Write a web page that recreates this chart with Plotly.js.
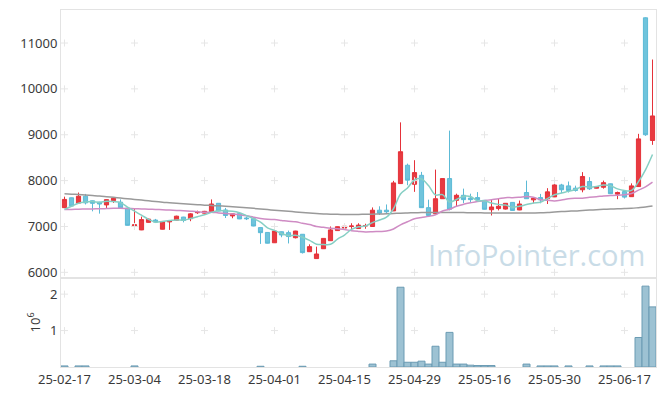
<!DOCTYPE html>
<html>
<head>
<meta charset="utf-8">
<script src="https://cdn.plot.ly/plotly-3.0.1.min.js"></script>
<style>html,body{margin:0;padding:0;background:#fff;}#chart{width:665px;height:396px;}</style>
</head>
<body>
<div id="chart"></div>
<script>
const dates = ["25-02-17","25-02-18","25-02-19","25-02-20","25-02-21","25-02-24","25-02-25","25-02-26","25-02-27","25-02-28",
"25-03-04","25-03-05","25-03-06","25-03-07","25-03-10","25-03-11","25-03-12","25-03-13","25-03-14","25-03-17",
"25-03-18","25-03-19","25-03-20","25-03-21","25-03-24","25-03-25","25-03-26","25-03-27","25-03-28","25-03-31",
"25-04-01","25-04-02","25-04-03","25-04-04","25-04-07","25-04-08","25-04-09","25-04-10","25-04-11","25-04-14",
"25-04-15","25-04-16","25-04-17","25-04-18","25-04-21","25-04-22","25-04-23","25-04-24","25-04-25","25-04-28",
"25-04-29","25-04-30","25-05-02","25-05-07","25-05-08","25-05-09","25-05-12","25-05-13","25-05-14","25-05-15",
"25-05-16","25-05-19","25-05-20","25-05-21","25-05-22","25-05-23","25-05-26","25-05-27","25-05-28","25-05-29",
"25-05-30","25-06-02","25-06-04","25-06-05","25-06-09","25-06-10","25-06-11","25-06-12","25-06-13","25-06-16",
"25-06-17","25-06-18","25-06-19","25-06-20","25-06-23"];

const open = [7410,7625,7510,7660,7560,7530,7470,7565,7530,7400,
7000,6925,7090,7140,6940,7100,7135,7205,7170,7300,
7290,7325,7505,7360,7230,7280,7185,7170,6975,6870,
6645,6885,6865,6755,6830,6450,6300,6515,6690,6910,
6965,7000,6955,7010,7000,7355,7355,7340,7935,8335,
7920,8115,7410,7280,7605,8045,7570,7680,7620,7630,
7570,7365,7390,7380,7525,7360,7740,7580,7630,7605,
7645,7905,7885,7835,7800,7980,7835,7855,7930,7705,
7760,7650,7870,11550,8875];
const high = [7650,7630,7740,7710,7565,7540,7590,7640,7590,7405,
7400,7215,7170,7165,7115,7130,7235,7210,7290,7345,
7340,7590,7510,7405,7280,7285,7215,7175,6980,6875,
6905,6890,6910,6905,6835,6610,6560,6745,7000,7000,
7040,7070,7070,7060,7415,7440,7480,7995,9270,8370,
8445,8190,7585,8240,8045,9090,7715,7825,7715,7750,
7575,7585,7620,7505,7530,7565,8000,7640,7710,7835,
7930,7930,7980,7890,8185,8075,7875,8000,7935,7760,
7795,7940,9020,11560,10640];
const low = [7400,7440,7505,7480,7330,7280,7400,7515,7400,7020,
6930,6920,7085,7075,6935,6925,7130,7090,7115,7275,
7285,7320,7330,7185,7180,7160,7140,7005,6620,6630,
6640,6765,6630,6740,6410,6445,6295,6510,6685,6905,
6940,6940,6950,6950,6990,7250,7270,7335,7930,7900,
7755,7405,7205,7275,7600,7350,7425,7510,7520,7555,
7370,7240,7350,7370,7345,7355,7600,7505,7505,7490,
7640,7725,7740,7760,7745,7795,7830,7825,7710,7595,
7610,7645,7865,8975,8780];
const close = [7590,7445,7660,7515,7505,7490,7585,7615,7405,7025,
7040,7150,7160,7095,7110,7125,7225,7130,7275,7310,
7330,7490,7335,7240,7275,7165,7170,7010,6865,6635,
6900,6815,6780,6900,6430,6560,6400,6740,6925,6995,
7005,7010,7030,7020,7355,7290,7320,7950,8630,8010,
8175,7410,7240,7605,8045,7375,7680,7585,7585,7585,
7375,7425,7440,7505,7350,7490,7605,7615,7580,7755,
7905,7800,7785,7785,8090,7820,7870,7955,7715,7740,
7640,7885,8910,9000,9410];

const ma5 = [7370,7440,7505,7535,7543,7523,7551,7542,7520,7424,
7334,7247,7156,7094,7111,7128,7143,7137,7173,7213,
7254,7307,7348,7341,7334,7301,7237,7172,7097,6969,
6916,6845,6799,6806,6765,6697,6614,6606,6611,6724,
6813,6935,6993,7012,7084,7141,7203,7387,7709,7840,
8017,8035,7893,7688,7695,7535,7589,7658,7654,7562,
7562,7511,7482,7466,7419,7442,7478,7513,7528,7609,
7692,7731,7765,7806,7873,7856,7870,7904,7890,7820,
7784,7787,7978,8235,8569];
const ma20 = [7370,7372,7378,7380,7383,7385,7390,7395,7397,7393,
7388,7383,7378,7372,7365,7358,7350,7342,7333,7323,
7310,7312,7296,7282,7271,7254,7234,7203,7176,7157,
7150,7133,7114,7104,7070,7042,7001,6981,6964,6948,
6932,6908,6893,6882,6886,6892,6899,6946,7035,7103,
7167,7197,7220,7255,7336,7377,7441,7483,7516,7545,
7564,7585,7605,7629,7629,7639,7653,7637,7584,7571,
7558,7577,7605,7614,7616,7638,7648,7666,7673,7681,
7694,7717,7791,7865,7968];
const ma60 = [7715,7705,7695,7685,7675,7665,7650,7635,7620,7605,
7590,7575,7560,7545,7530,7518,7505,7495,7485,7475,
7465,7458,7450,7442,7432,7420,7408,7395,7382,7368,
7355,7343,7330,7318,7305,7293,7282,7274,7268,7264,
7262,7262,7263,7265,7268,7272,7276,7282,7290,7295,
7300,7302,7303,7304,7306,7305,7304,7303,7300,7298,
7296,7295,7295,7295,7294,7294,7295,7296,7298,7305,
7315,7325,7333,7340,7350,7358,7365,7373,7380,7386,
7390,7396,7410,7425,7445];

// volume in millions of shares
const volume = [0.03,0,0.03,0.03,0,0,0,0,0,0,
0.03,0,0,0,0,0,0,0,0,0,
0,0,0,0,0,0,0,0,0.02,0,
0,0,0,0,0.02,0,0,0,0,0,
0,0,0,0,0.08,0,0,0.17,2.19,0.13,
0.13,0.16,0.08,0.57,0.13,0.95,0.08,0.08,0.05,0.04,
0.04,0.04,0,0,0,0,0.08,0,0.03,0.03,
0.03,0,0.03,0,0,0.03,0,0.03,0.03,0.03,
0,0,0.81,2.22,1.65];

const priceTicks = [6000,7000,8000,9000,10000,11000];
const volTicks = [1,2];
const xTickIdx = [0,10,20,30,40,50,60,70,80];
const xTicks = xTickIdx.map(i => dates[i]);

// grid crosses at tick intersections
const gx = [], gy = [], vx = [], vy = [];
xTicks.forEach(d => { priceTicks.forEach(p => { gx.push(d); gy.push(p); }); volTicks.forEach(v => { vx.push(d); vy.push(v); }); });

const font = {family: "Noto Sans, Open Sans, sans-serif", size: 13, color: "#3a3a3a"};
const axLine = "#e3e3e3";
const crossMarker = {symbol: "cross-thin", size: 5, line: {width: 1, color: "#e6e6e6"}};

const traces = [
  {type: "candlestick", x: dates, open: open, high: high, low: low, close: close, xaxis: "x", yaxis: "y",
   increasing: {line: {color: "#e5323a", width: 1}, fillcolor: "#e83a40"},
   decreasing: {line: {color: "#5cbad6", width: 1}, fillcolor: "#6fc4dc"},
   whiskerwidth: 0},
  {type: "bar", x: dates, y: volume, xaxis: "x2", yaxis: "y2",
   marker: {color: "#9dc2d3", line: {color: "#6b9bb3", width: volume.map(v => v > 0 ? 1 : 0)}}},
  {type: "scatter", mode: "markers", x: gx, y: gy, xaxis: "x", yaxis: "y", hoverinfo: "skip", marker: crossMarker},
  {type: "scatter", mode: "markers", x: vx, y: vy, xaxis: "x2", yaxis: "y2", hoverinfo: "skip", marker: crossMarker},
  {type: "scatter", mode: "lines", x: dates, y: ma60, xaxis: "x", yaxis: "y",
   line: {color: "#9a9a9a", width: 1.5, shape: "spline"}},
  {type: "scatter", mode: "lines", x: dates, y: ma20, xaxis: "x", yaxis: "y",
   line: {color: "#cf8cc4", width: 1.5, shape: "spline"}},
  {type: "scatter", mode: "lines", x: dates, y: ma5, xaxis: "x", yaxis: "y",
   line: {color: "#86cfc4", width: 1.5, shape: "spline"}}
];

const layout = {
  width: 665, height: 396,
  margin: {l: 61, r: 9, t: 10, b: 29},
  paper_bgcolor: "#fff", plot_bgcolor: "#fff",
  showlegend: false,
  font: font,
  bargap: 0,
  boxgap: 0.15, boxgroupgap: 0.3,
  xaxis: {type: "category", categoryorder: "array", categoryarray: dates,
    domain: [0, 1], anchor: "y", range: [-0.5, 84.5],
    showticklabels: false, showgrid: false, zeroline: false, ticks: "",
    showline: true, mirror: true, linecolor: axLine, linewidth: 1,
    rangeslider: {visible: false}},
  yaxis: {domain: [0.25, 1], range: [5882, 11720], tickvals: priceTicks, tickformat: "d",
    showgrid: false, zeroline: false,
    showline: true, mirror: true, linecolor: axLine, ticks: "", tickfont: font},
  xaxis2: {type: "category", categoryorder: "array", categoryarray: dates,
    domain: [0, 1], anchor: "y2", range: [-0.5, 84.5],
    tickvals: xTicks, ticktext: xTicks, tickangle: 0, showgrid: false, zeroline: false, ticks: "",
    showline: true, mirror: true, linecolor: axLine, tickfont: font},
  yaxis2: {domain: [0, 0.25], range: [0, 2.45], tickvals: volTicks, tickformat: "d",
    showgrid: false, zeroline: false,
    showline: true, mirror: true, linecolor: axLine, ticks: "", tickfont: font,
    title: {text: "10<sup>6</sup>", font: font, standoff: 6}},
  annotations: [{text: "InfoPointer.com", xref: "paper", yref: "paper", x: 0.985, y: 0.314,
    xanchor: "right", yanchor: "middle", showarrow: false,
    font: {family: "Open Sans, sans-serif", size: 29, color: "#c9dce7"}}]
};

Plotly.newPlot("chart", traces, layout, {staticPlot: true, displayModeBar: false});
</script>
</body>
</html>
